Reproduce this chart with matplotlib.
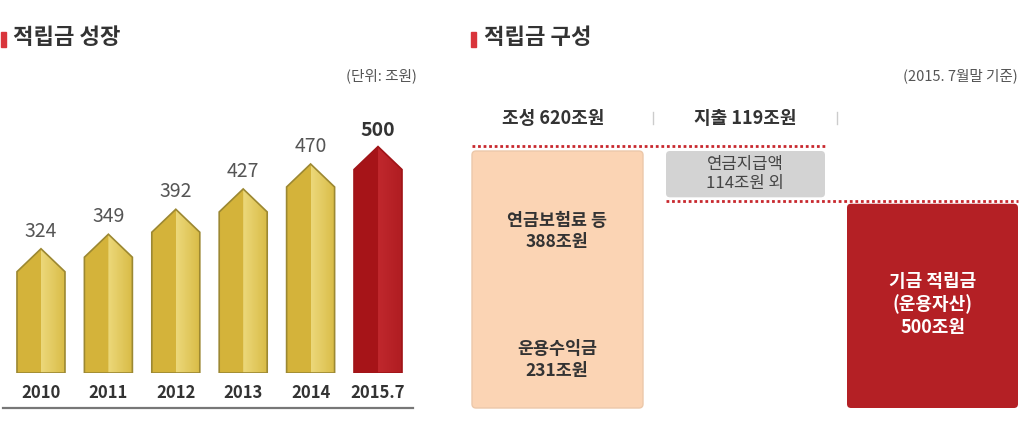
import numpy as np
import matplotlib
matplotlib.use("Agg")
import matplotlib.pyplot as plt
from matplotlib.patches import Polygon, Rectangle, FancyBboxPatch
from matplotlib.lines import Line2D
from matplotlib import transforms

plt.rcParams['font.family'] = ['Noto Sans CJK KR', 'DejaVu Sans']

# 적립금 성장 (조원)
years = ['2010', '2011', '2012', '2013', '2014', '2015.7']
fund = [324, 349, 392, 427, 470, 500]

# 적립금 구성 (2015.7월말)
inflow_total = 620
premium = 388
returns = 231
outflow_total = 119
pension_paid = 114
reserve = 500

W, H = 1024, 422
fig = plt.figure(figsize=(W / 100, H / 100), dpi=100)


def px(x, y):
    # pixel (from top-left) -> figure fraction
    return x / W, 1 - y / H


# ---------- left: 적립금 성장 ----------
ax = fig.add_axes([0, (H - 373) / H, 420 / W, (373 - 120) / H])
base = 110
ax.axis('off')

bw = 0.712
shoulder = 39.6
for i, (yr, v) in enumerate(zip(years, fund)):
    last = i == len(years) - 1
    if last:
        c_left, c_hi, c_edge, c_line = '#a61418', '#c0282d', '#b01d22', '#a01418'
    else:
        c_left, c_hi, c_edge, c_line = '#d4b33a', '#ecd87a', '#d9bc47', '#9c8832'
    l, r = i - bw / 2, i + bw / 2
    outline = [(l, base), (l, v - shoulder), (i, v), (r, v - shoulder), (r, base)]
    ax.add_patch(Polygon(outline, closed=True, facecolor=c_left, edgecolor='none', zorder=2))
    right = Polygon([(i, base), (i, v), (r, v - shoulder), (r, base)], closed=True,
                    facecolor='none', edgecolor='none')
    ax.add_patch(right)
    grad = np.linspace(0, 1, 64).reshape(1, -1)
    cmap = matplotlib.colors.LinearSegmentedColormap.from_list('g', [c_hi, c_edge])
    im = ax.imshow(grad, extent=(i, r, base, v), aspect='auto', cmap=cmap,
                   origin='lower', zorder=3)
    im.set_clip_path(right)
    ax.add_patch(Polygon(outline, closed=True, facecolor='none', edgecolor=c_line,
                         lw=1.2, zorder=4))
    ax.annotate(str(v), (i, v), xytext=(0, 5), textcoords='offset points',
                ha='center', va='bottom', fontsize=14,
                fontweight='bold' if last else 'normal',
                color='#333333' if last else '#555555')
    ax.text(i, -0.079, yr, transform=ax.get_xaxis_transform(), ha='center',
            va='center', fontsize=12, fontweight='bold', color='#333333')

ax.set_xlim(-0.608, 5.623)
ax.set_ylim(base, base + 253 / 0.5806)

fig.add_artist(Line2D([3 / W, 413 / W], [1 - 408 / H] * 2, color='#777777', lw=1.6,
                      transform=fig.transFigure))

# titles
for tx, mx, label in [(13, 1, '적립금 성장'), (484, 471, '적립금 구성')]:
    fig.add_artist(Rectangle(px(mx, 47), 5 / W, 15 / H, color='#d9353b',
                             transform=fig.transFigure))
    fig.text(*px(tx, 38), label, ha='left', va='center', fontsize=16,
             fontweight='bold', color='#333333')
fig.text(*px(417, 76), '(단위: 조원)', ha='right', va='center', fontsize=10.5,
         color='#555555')
fig.text(*px(1018, 76), '(2015. 7월말 기준)', ha='right', va='center', fontsize=10.5,
         color='#555555')

# ---------- right: 적립금 구성 ----------
k = 257 / inflow_total  # px per 조원
bx = fig.add_axes([460 / W, (H - 412) / H, 564 / W, 312 / H])
bx.set_xlim(460, 1024)
bx.set_ylim(-4 / k, 308 / k)
bx.axis('off')
asp = 1 / k
hdr = transforms.blended_transform_factory(bx.transData, bx.transAxes)
hy = (412 - 118) / 312

bx.text(553, hy, f'조성 {inflow_total}조원', transform=hdr, ha='center', va='center',
        fontsize=13, fontweight='bold', color='#333333')
bx.text(745, hy, f'지출 {outflow_total}조원', transform=hdr, ha='center', va='center',
        fontsize=13, fontweight='bold', color='#333333')
for sx in (653, 837):
    bx.plot([sx, sx], [(412 - 112) / 312, (412 - 124) / 312], transform=hdr,
            color='#cccccc', lw=1)

rs = 'round,pad=0,rounding_size=4'
gap = 3 / k
# 조성 box
bx.add_patch(FancyBboxPatch((472, 0), 171, inflow_total, boxstyle=rs,
                            mutation_aspect=asp, facecolor='#fbd4b4',
                            edgecolor='#ecc8aa', lw=1))
bx.text(557, (returns + inflow_total) / 2, f'연금보험료 등\n{premium}조원', ha='center',
        va='center', fontsize=12.5, fontweight='bold', color='#333333', linespacing=1.25)
bx.text(557, returns / 2, f'운용수익금\n{returns}조원', ha='center', va='center',
        fontsize=12.5, fontweight='bold', color='#333333', linespacing=1.25)

# 지출 box
g0 = inflow_total - outflow_total
bx.add_patch(FancyBboxPatch((666, g0 + gap), 159, outflow_total - gap, boxstyle=rs,
                            mutation_aspect=asp, facecolor='#d3d3d3', edgecolor='none'))
bx.text(745, (g0 + gap + inflow_total) / 2, f'연금지급액\n{pension_paid}조원 외',
        ha='center', va='center', fontsize=12, color='#444444', linespacing=1.15)

# 적립금 box
bx.add_patch(FancyBboxPatch((847, 0), 171, reserve - gap, boxstyle=rs,
                            mutation_aspect=asp, facecolor='#b42025', edgecolor='none'))
bx.text(933, reserve / 2, f'기금 적립금\n(운용자산)\n{reserve}조원', ha='center',
        va='center', fontsize=13, fontweight='bold', color='white', linespacing=1.25)

# dotted level lines
bx.plot([472, 825], [inflow_total + 5 / k] * 2, color='#c8282e', lw=2,
        linestyle=(0, (1, 1)), dash_capstyle='butt')
bx.plot([666, 1018], [(g0 + reserve) / 2] * 2, color='#c8282e', lw=2,
        linestyle=(0, (1, 1)), dash_capstyle='butt')

fig.savefig('out.png', dpi=100)
